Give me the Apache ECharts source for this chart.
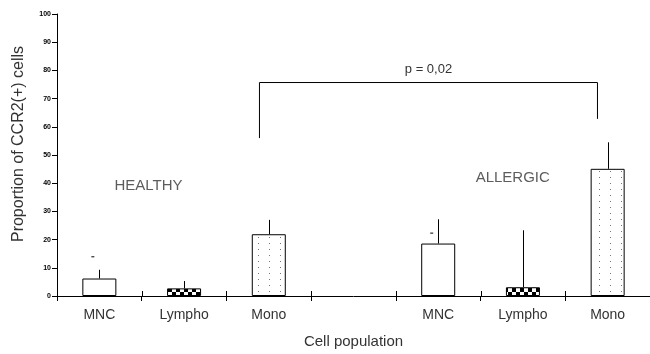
<!DOCTYPE html>
<html>
<head>
<meta charset="utf-8">
<script src="https://cdn.jsdelivr.net/npm/echarts@6/dist/echarts.min.js"></script>
<style>
html,body{margin:0;padding:0;background:#fff;}
#chart{width:650px;height:354px;}
</style>
</head>
<body>
<div id="chart"></div>
<script>
// Categories: healthy group, spacer slot, allergic group
const categories = ['MNC', 'Lympho', 'Mono', '', 'MNC', 'Lympho', 'Mono'];
const means = [6.2, 2.7, 21.9, null, 18.6, 3.1, 45.1];
const errTops = [9.3, 5.3, 27.0, null, 27.2, 23.3, 54.5];
const capMarks = [13.9, null, null, null, 22.3, null, null];
const fills = ['open', 'check', 'dots', null, 'open', 'check', 'dots'];
const slotEdges = [0, 1, 2, 3, 4, 5, 6, 7];
const groupLabels = [{ text: 'HEALTHY', x: 1.08, y: 38.9 }, { text: 'ALLERGIC', x: 5.38, y: 42.0 }];
const bracket = [[2.39, 56.0], [2.39, 75.7], [6.38, 75.7], [6.38, 62.8]];
const pText = 'p = 0,02';

const FONT = 'Arial, "Liberation Sans", sans-serif';
const TXT = '#333';

function checkerPattern() {
  const c = document.createElement('canvas');
  c.width = 8; c.height = 8;
  const g = c.getContext('2d');
  g.fillStyle = '#fff'; g.fillRect(0, 0, 8, 8);
  g.fillStyle = '#000';
  g.fillRect(0, 0, 4, 4); g.fillRect(4, 4, 4, 4);
  return c;
}
function dotPattern() {
  const c = document.createElement('canvas');
  c.width = 11; c.height = 6;
  const g = c.getContext('2d');
  g.fillStyle = '#fff'; g.fillRect(0, 0, 11, 6);
  g.fillStyle = '#777';
  g.fillRect(5, 3, 1, 1);
  return c;
}
const patterns = {
  open: '#fff',
  check: { image: checkerPattern(), repeat: 'repeat' },
  dots: { image: dotPattern(), repeat: 'repeat' }
};

const barData = means.map((v, i) => v == null ? null : {
  value: v,
  itemStyle: { color: patterns[fills[i]], borderColor: '#000', borderWidth: 1 }
});

const chart = echarts.init(document.getElementById('chart'), null, { renderer: 'canvas' });
chart.setOption({
  animation: false,
  backgroundColor: '#fff',
  grid: { left: 57, top: 14, bottom: 57, right: -1 },
  xAxis: [{
    type: 'category',
    data: categories,
    name: 'Cell population',
    nameLocation: 'middle',
    nameGap: 38,
    nameTextStyle: { fontFamily: FONT, fontSize: 15, color: TXT },
    axisLine: { lineStyle: { color: '#000', width: 1 } },
    axisTick: { show: true, length: 5, lineStyle: { color: '#000' } },
    axisLabel: { fontFamily: FONT, fontSize: 14, color: TXT, margin: 12 },
    splitLine: { show: false }
  }, {
    type: 'value',
    min: 0, max: 7, interval: 1,
    show: false
  }],
  yAxis: {
    type: 'value',
    min: 0, max: 100, interval: 10,
    name: 'Proportion of CCR2(+) cells',
    nameLocation: 'middle',
    nameGap: 30,
    nameTextStyle: { fontFamily: FONT, fontSize: 16, color: TXT, padding: [0, 0, 0, 22] },
    axisLine: { show: true, lineStyle: { color: '#000', width: 1 } },
    axisTick: { show: true, length: 5, lineStyle: { color: '#000' } },
    axisLabel: { fontFamily: FONT, fontSize: 7, fontWeight: 'bold', color: '#000', margin: 6 },
    splitLine: { show: false }
  },
  series: [{
    type: 'bar',
    data: barData,
    barWidth: 34,
    z: 2
  }, {
    // error whiskers (upper only) plus small stray cap ticks
    type: 'custom',
    z: 3,
    data: categories.map((c, i) => [i, means[i], errTops[i], capMarks[i]]),
    renderItem: function (params, api) {
      const i = api.value(0);
      const children = [];
      const m = means[i], e = errTops[i], cm = capMarks[i];
      if (m != null && e != null) {
        const p0 = api.coord([i, m]);
        const p1 = api.coord([i, e]);
        children.push({
          type: 'line',
          shape: { x1: Math.round(p0[0]) + 0.5, y1: p0[1], x2: Math.round(p0[0]) + 0.5, y2: p1[1] },
          style: { stroke: '#000', lineWidth: 1 }
        });
      }
      if (cm != null) {
        const pc = api.coord([i, cm]);
        children.push({
          type: 'line',
          shape: { x1: pc[0] - 8, y1: pc[1], x2: pc[0] - 5, y2: pc[1] },
          style: { stroke: '#000', lineWidth: 1 }
        });
      }
      return { type: 'group', children: children };
    }
  }, {
    // upper halves of the tick marks that cross the baseline at slot edges
    type: 'custom',
    xAxisIndex: 1,
    z: 5,
    data: slotEdges.map(v => [v, 0]),
    renderItem: function (params, api) {
      const p = api.coord([api.value(0), 0]);
      const x = Math.round(p[0]) + 0.5;
      return {
        type: 'line',
        shape: { x1: x, y1: p[1], x2: x, y2: p[1] - 5 },
        style: { stroke: '#000', lineWidth: 1 }
      };
    }
  }, {
    // significance bracket
    type: 'line',
    xAxisIndex: 1,
    data: bracket,
    symbol: 'none',
    lineStyle: { color: '#000', width: 1 },
    z: 4,
    markPoint: {
      symbol: 'rect', symbolSize: 0,
      label: { show: true, formatter: pText, fontFamily: FONT, fontSize: 13, color: TXT, position: 'inside' },
      data: [{ coord: [(bracket[1][0] + bracket[2][0]) / 2, 80.2] }]
    }
  }, {
    // group captions
    type: 'scatter',
    xAxisIndex: 1,
    symbolSize: 0,
    data: groupLabels.map(g => ({ value: [g.x, g.y], name: g.text })),
    label: { show: true, position: 'inside', formatter: p => p.name, fontFamily: FONT, fontSize: 15, color: TXT },
    z: 4
  }]
});
</script>
</body>
</html>
